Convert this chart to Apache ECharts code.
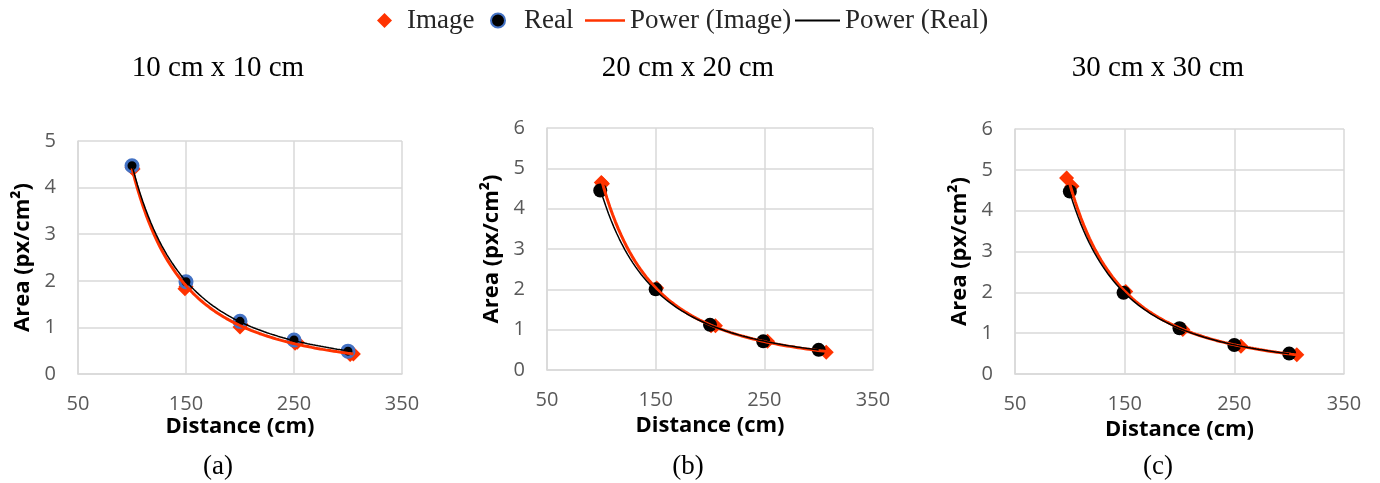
<!DOCTYPE html>
<html>
<head>
<meta charset="utf-8">
<script src="https://cdn.jsdelivr.net/npm/echarts@6/dist/echarts.min.js"></script>
<style>
html,body{margin:0;padding:0;background:#fff;}
#chart{width:1380px;height:483px;}
</style>
</head>
<body>
<div id="chart"></div>
<script>
// ---------- Data ----------
const panelTitles = ['10 cm x 10 cm', '20 cm x 20 cm', '30 cm x 30 cm'];
const panelCaptions = ['(a)', '(b)', '(c)'];
const xRange = [50, 350, 100];          // min, max, interval
const yMaxes = [5, 6, 6];

// Real measurements [distance cm, area px/cm²]
const realA = [[100, 4.47], [150, 1.98], [200, 1.13], [250, 0.73], [300, 0.49]];
const realB = [[99, 4.45], [150, 2.00], [200, 1.12], [249, 0.71], [300, 0.50]];
const realC = [[100, 4.47], [149, 1.99], [200, 1.12], [250, 0.71], [300, 0.50]];

// Image measurements [distance cm, area px/cm²]
const imageA = [[100, 4.43], [101, 4.40], [149, 1.83], [150, 1.88], [200, 1.01], [201, 1.06], [251, 0.66], [253, 0.68], [302, 0.42], [305, 0.43]];
const imageB = [[100, 4.65], [101, 4.62], [151, 2.03], [201, 1.10], [205, 1.10], [253, 0.71], [307, 0.44]];
const imageC = [[97, 4.80], [102, 4.60], [151, 2.02], [203, 1.09], [256, 0.68], [307, 0.47]];

const realSets = [realA, realB, realC];
const imageSets = [imageA, imageB, imageC];

// ---------- Power trendline (least squares in log-log space, like Excel) ----------
function powerFit(pts) {
  const n = pts.length;
  let sx = 0, sy = 0, sxx = 0, sxy = 0;
  pts.forEach(p => {
    const lx = Math.log(p[0]), ly = Math.log(p[1]);
    sx += lx; sy += ly; sxx += lx * lx; sxy += lx * ly;
  });
  const b = (n * sxy - sx * sy) / (n * sxx - sx * sx);
  const a = Math.exp((sy - b * sx) / n);
  const xs = pts.map(p => p[0]);
  const x0 = Math.min(...xs), x1 = Math.max(...xs);
  const out = [];
  const steps = 80;
  for (let i = 0; i <= steps; i++) {
    const x = x0 + (x1 - x0) * i / steps;
    out.push([x, a * Math.pow(x, b)]);
  }
  return out;
}

// ---------- Layout ----------
const grids = [
  {left: 78, top: 141, width: 324, height: 233},
  {left: 547, top: 128, width: 326, height: 242},
  {left: 1015, top: 129, width: 329, height: 245}
];
const titleX = [218, 688, 1158];

const RED = '#FF3300';
const GRID_COLOR = '#D9D9D9';
const LABEL_FONT = '"Open Sans", "Liberation Sans", sans-serif';
const SERIF = '"Liberation Serif", "DejaVu Serif", serif';

const xAxes = [], yAxes = [], series = [], graphics = [];
grids.forEach((g, i) => {
  xAxes.push({
    type: 'value', gridIndex: i, min: xRange[0], max: xRange[1], interval: xRange[2],
    name: 'Distance (cm)', nameLocation: 'middle', nameGap: 42,
    nameTextStyle: {fontFamily: LABEL_FONT, fontWeight: 'bold', fontSize: 22, color: '#000'},
    axisLine: {show: true, lineStyle: {color: GRID_COLOR, width: 1.5}},
    axisTick: {show: false},
    axisLabel: {color: '#595959', fontFamily: LABEL_FONT, fontSize: 20, margin: 20},
    splitLine: {show: true, lineStyle: {color: GRID_COLOR, width: 1.5}}
  });
  yAxes.push({
    type: 'value', gridIndex: i, min: 0, max: yMaxes[i], interval: 1,
    name: 'Area (px/cm²)', nameLocation: 'middle', nameGap: 44,
    nameTextStyle: {fontFamily: LABEL_FONT, fontWeight: 'bold', fontSize: 22, color: '#000'},
    axisLine: {show: true, lineStyle: {color: GRID_COLOR, width: 1.5}},
    axisTick: {show: false},
    axisLabel: {color: '#595959', fontFamily: LABEL_FONT, fontSize: 20, margin: 22},
    splitLine: {show: true, lineStyle: {color: GRID_COLOR, width: 1.5}}
  });
  series.push({
    name: 'Image', type: 'scatter', xAxisIndex: i, yAxisIndex: i,
    symbol: 'diamond', symbolSize: 15, z: 2,
    itemStyle: {color: RED, opacity: 1},
    data: imageSets[i]
  });
  series.push({
    name: 'Real', type: 'scatter', xAxisIndex: i, yAxisIndex: i,
    symbol: 'circle', symbolSize: i === 0 ? 12 : 14, z: 3,
    itemStyle: i === 0 ? {color: '#000', borderColor: '#4472C4', borderWidth: 3, opacity: 1} : {color: '#000', opacity: 1},
    data: realSets[i]
  });
  series.push({
    name: 'Power (Image)', type: 'line', xAxisIndex: i, yAxisIndex: i,
    symbol: 'none', showSymbol: false, z: 4, silent: true,
    lineStyle: {color: RED, width: 3}, itemStyle: {color: RED},
    data: powerFit(imageSets[i])
  });
  series.push({
    name: 'Power (Real)', type: 'line', xAxisIndex: i, yAxisIndex: i,
    symbol: 'none', showSymbol: false, z: 5, silent: true,
    lineStyle: {color: '#000', width: 1.5}, itemStyle: {color: '#000'},
    data: powerFit(realSets[i])
  });
  graphics.push({
    type: 'text', x: titleX[i], y: 68,
    style: {text: panelTitles[i], textAlign: 'center', textVerticalAlign: 'middle',
            font: '29px ' + SERIF, fill: '#000'}
  });
  graphics.push({
    type: 'text', x: titleX[i], y: 467,
    style: {text: panelCaptions[i], textAlign: 'center', textVerticalAlign: 'middle',
            font: '27px ' + SERIF, fill: '#000'}
  });
});

const legendText = {fontFamily: SERIF, fontSize: 27, color: '#262626'};
function legendItem(name, left, icon, w, h, textPad) {
  return {
    left: left, top: 2, itemWidth: w, itemHeight: h,
    icon: icon, selectedMode: false,
    textStyle: Object.assign({padding: [0, 0, 0, textPad]}, legendText),
    data: [name]
  };
}

const chart = echarts.init(document.getElementById('chart'), null, {renderer: 'canvas'});
chart.setOption({
  animation: false,
  backgroundColor: '#fff',
  legend: [
    legendItem('Image', 372, 'diamond', 15, 15, 10),
    legendItem('Real', 485, 'circle', 14, 14, 14),
    legendItem('Power (Image)', 580, 'rect', 40, 2.5, 0),
    legendItem('Power (Real)', 790, 'rect', 45, 2, 0)
  ],
  grid: grids,
  xAxis: xAxes,
  yAxis: yAxes,
  series: series,
  graphic: graphics
});
</script>
</body>
</html>
